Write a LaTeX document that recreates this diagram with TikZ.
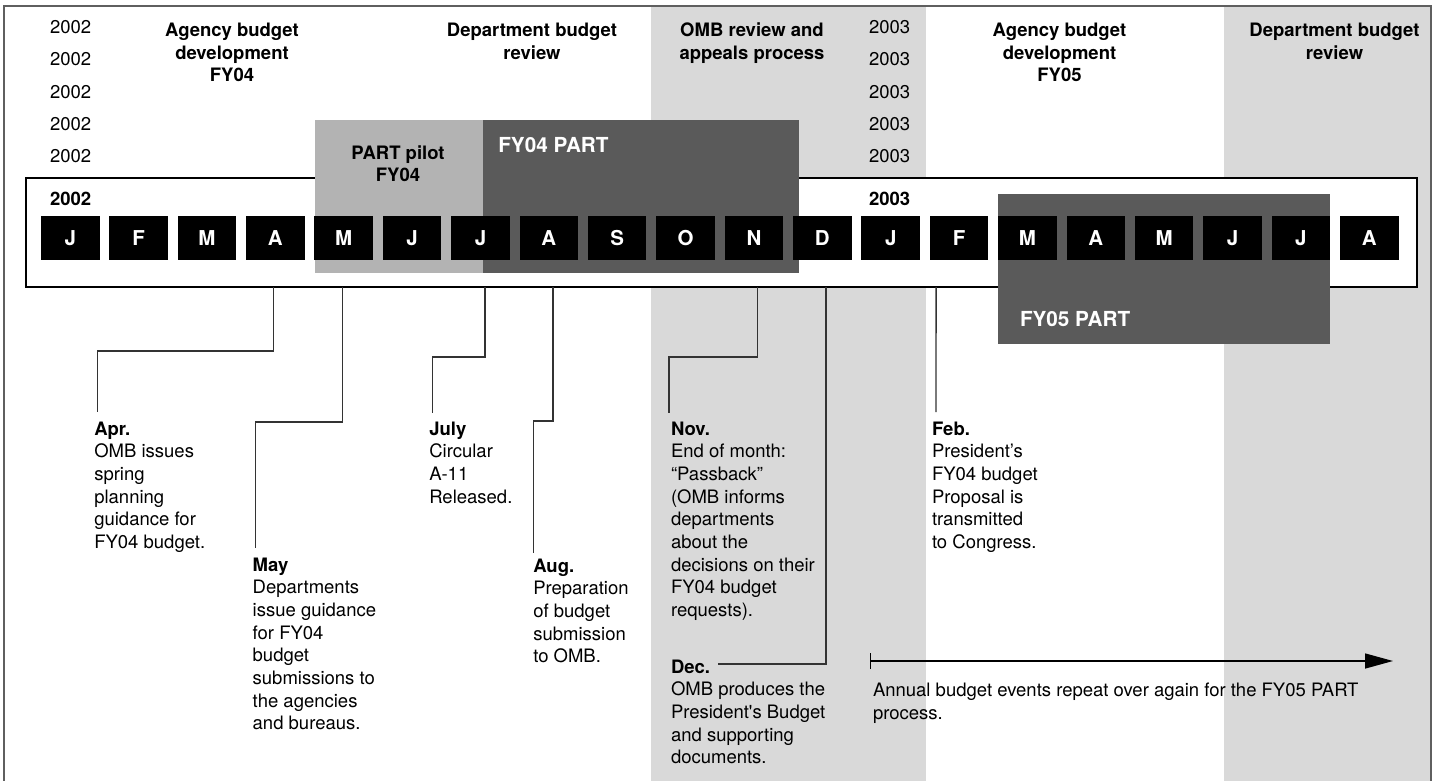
\documentclass[tikz,border=0pt]{standalone}
\usepackage{fontspec}
\setmainfont{TeX Gyre Heros}
\usetikzlibrary{arrows.meta}
\definecolor{bandgray}{HTML}{D9D9D9}
\definecolor{pilotgray}{HTML}{B3B3B3}
\definecolor{darkgray}{HTML}{5A5A5A}
\definecolor{framegray}{HTML}{5F5F5F}
\definecolor{conngray}{HTML}{333333}
\newcommand{\fst}{\rule{0pt}{15pt}}
\begin{document}
\begin{tikzpicture}[x=1pt,y=-1pt,
  every node/.style={inner sep=0pt, outer sep=0pt},
  txt/.style={anchor=north west, align=left, font=\fontsize{18.5}{22.7}\selectfont},
  head/.style={anchor=north, align=center, font=\fontsize{18.5}{22.5}\selectfont\bfseries},
  yr/.style={anchor=base west, font=\fontsize{18.5}{22.7}\selectfont},
  month/.style={anchor=north west, fill=black, minimum width=58.5pt, minimum height=44pt,
     text=white, font=\fontsize{20.5}{24}\selectfont\bfseries},
  partbox/.style={anchor=north west},
  parttxt/.style={anchor=base west, text=white, font=\fontsize{20.7}{24}\selectfont\bfseries},
  conn/.style={draw=conngray, line width=1.4pt}]
\useasboundingbox (0,0) rectangle (1440,781);
\fill[white] (0,0) rectangle (1440,781);
% grey phase bands
\fill[bandgray] (651,6) rectangle (926,781);
\fill[bandgray] (1224,6) rectangle (1431,781);
% outer frame
\draw[framegray, line width=2pt] (3.5,781) -- (3.5,6) -- (1431,6) -- (1431,781);
% timeline box
\node[draw=black, fill=white, line width=2.8pt, minimum width=1391pt, minimum height=109pt, anchor=north west] (tl) at (26,178) {};
% PART boxes
\node[partbox, fill=pilotgray, minimum width=168pt, minimum height=153pt] (pilot) at (315,120) {};
\node[partbox, fill=darkgray, minimum width=316pt, minimum height=153pt] (fy04) at (483,120) {};
\node[partbox, fill=darkgray, minimum width=332pt, minimum height=150pt] (fy05) at (998,194) {};
\node[head] (pilottxt) at (398,144) {\fst PART pilot\\FY04};
\node[parttxt] (fy04txt) at (498.3,153) {FY04 PART};
\node[parttxt] (fy05txt) at (1020,326.5) {FY05 PART};
% months
\foreach \l [count=\i from 0] in {J,F,M,A,M,J,J,A,S,O,N,D,J,F,M,A,M,J,J,A}
  \node[month] (m\i) at ({41+\i*68.37},216) {\l};
% years
\foreach \k [count=\j] in {33.5,66,98.3,130.7,163} {
  \node[yr] (ya\j) at (50,\k) {2002};
  \node[yr] (yb\j) at (869,\k) {2003};
}
\node[yr, font=\fontsize{18.5}{22.7}\selectfont\bfseries] (yA) at (50,205.5) {2002};
\node[yr, font=\fontsize{18.5}{22.7}\selectfont\bfseries] (yB) at (869,205.5) {2003};
% phase headings
\node[head] (h1) at (232,21.6) {\fst Agency budget\\development\\FY04};
\node[head] (h2) at (532,21.6) {\fst Department budget\\review};
\node[head] (h3) at (752,21.6) {\fst OMB review and\\appeals process};
\node[head] (h4) at (1059.5,21.6) {\fst Agency budget\\development\\FY05};
\node[head] (h5) at (1334.5,21.6) {\fst Department budget\\review};
% event labels
\node[txt] (apr) at (94.3,420) {\fst\textbf{Apr.}\\OMB issues\\spring\\planning\\guidance for\\FY04 budget.};
\node[txt] (may) at (252.7,556) {\fst\textbf{May}\\Departments\\issue guidance\\for FY04\\budget\\submissions to\\the agencies\\and bureaus.};
\node[txt] (jul) at (429.3,420) {\fst\textbf{July}\\Circular\\A-11\\Released.};
\node[txt] (aug) at (533.3,557) {\fst\textbf{Aug.}\\Preparation\\of budget\\submission\\to OMB.};
\node[txt] (nov) at (671,420) {\fst\textbf{Nov.}\\End of month:\\“Passback”\\(OMB informs\\departments\\about the\\decisions on their\\FY04 budget\\requests).};
\node[txt] (dec) at (671,658) {\fst\textbf{Dec.}\\OMB produces the\\President\textquotesingle s Budget\\and supporting\\documents.};
\node[txt] (feb) at (932,420) {\fst\textbf{Feb.}\\President’s\\FY04 budget\\Proposal is\\transmitted\\to Congress.};
\node[txt] (ann) at (873,681.5) {\fst Annual budget events repeat over again for the FY05 PART\\process.};
% connectors
\draw[conn] ([xshift=-2pt]m3.center |- tl.south) -- ++(0,64) -| ([xshift=3pt,yshift=8pt]apr.north west);
\draw[conn] ([xshift=-1pt]m4.center |- tl.south) -- ++(0,135) -| ([xshift=3pt,yshift=8pt]may.north west);
\draw[conn] ([xshift=4.5pt]m6.center |- tl.south) -- ++(0,70) -| ([xshift=3pt,yshift=7pt]jul.north west);
\draw[conn] ([xshift=4pt]m7.center |- tl.south) -- ++(0,134) -| ([yshift=4pt]aug.north west);
\draw[conn] ([xshift=3.4pt]m10.center |- tl.south) -- ++(0,70) -| ([xshift=-2pt,yshift=7pt]nov.north west);
\draw[conn] ([xshift=3.7pt]m11.center |- tl.south) |- ([xshift=47pt,yshift=-6pt]dec.north west);
\draw[conn] ([xshift=-23pt]m13.center |- tl.south) -- ([xshift=4pt,yshift=8pt]feb.north west);
% repeat arrow
\coordinate (arS) at (870,661);
\coordinate (arE) at (1393,661);
\draw[conn, draw=black, {Bar[width=16pt]}-{Triangle[length=28pt,width=15pt]}] (arS) -- (arE);
\end{tikzpicture}
\end{document}
